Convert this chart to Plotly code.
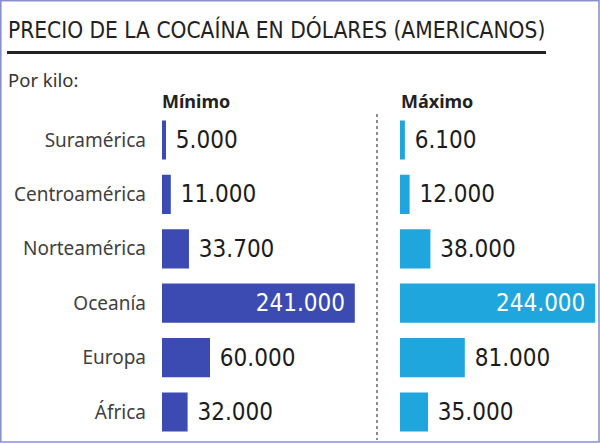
import plotly.graph_objects as go

categories = ["Suramérica", "Centroamérica", "Norteamérica", "Oceanía", "Europa", "África"]
minimo = [5000, 11000, 33700, 241000, 60000, 32000]
maximo = [6100, 12000, 38000, 244000, 81000, 35000]

title_text = "PRECIO DE LA COCAÍNA EN DÓLARES (AMERICANOS)"
subtitle_text = "Por kilo:"
header_min = "Mínimo"
header_max = "Máximo"

W, H = 600, 443
def px(x):
    return x / W
def py(y):
    return 1 - y / H

COL_MIN = "#3b4bb2"
COL_MAX = "#1fa6dc"
NUM_FONT = "DejaVu Sans Condensed"
NUM_SIZE = 24
INSIDE_LIMIT = 200000

def positions(vals):
    return ["inside" if v > INSIDE_LIMIT else "outside" for v in vals]

def templates(vals):
    return ["%{x:,} " if v > INSIDE_LIMIT else " %{x:,}" for v in vals]

fig = go.Figure()
fig.add_trace(go.Bar(
    y=categories, x=minimo, orientation="h", marker=dict(color=COL_MIN, line=dict(width=0)),
    texttemplate=templates(minimo), textposition=positions(minimo),
    insidetextanchor="end", constraintext="none", cliponaxis=False,
    insidetextfont=dict(family=NUM_FONT, size=NUM_SIZE, color="white"),
    outsidetextfont=dict(family=NUM_FONT, size=NUM_SIZE, color="#1c1c1c"),
    xaxis="x", yaxis="y", hoverinfo="skip", showlegend=False,
))
fig.add_trace(go.Bar(
    y=categories, x=maximo, orientation="h", marker=dict(color=COL_MAX, line=dict(width=0)),
    texttemplate=templates(maximo), textposition=positions(maximo),
    insidetextanchor="end", constraintext="none", cliponaxis=False,
    insidetextfont=dict(family=NUM_FONT, size=NUM_SIZE, color="white"),
    outsidetextfont=dict(family=NUM_FONT, size=NUM_SIZE, color="#1c1c1c"),
    xaxis="x2", yaxis="y2", hoverinfo="skip", showlegend=False,
))

ydom = [py(439.2), py(112.8)]
axis_common = dict(range=[0, 250000], showgrid=False, zeroline=False, showticklabels=False,
                   showline=False, ticks="", fixedrange=True, automargin=False)
fig.update_layout(
    width=W, height=H,
    margin=dict(l=0, r=0, t=0, b=0, autoexpand=False),
    paper_bgcolor="white", plot_bgcolor="rgba(0,0,0,0)",
    separators=",.",
    bargap=0.28,
    xaxis=dict(domain=[px(162), px(362)], anchor="y", **axis_common),
    xaxis2=dict(domain=[px(400), px(600)], anchor="y2", **axis_common),
    yaxis=dict(domain=ydom, autorange="reversed", showgrid=False, zeroline=False, showline=False,
               ticks="", ticklabelstandoff=15, anchor="x", automargin=False, fixedrange=True,
               tickfont=dict(family="Noto Sans", size=19, color="#404040")),
    yaxis2=dict(domain=ydom, autorange="reversed", showgrid=False, zeroline=False, showline=False,
                ticks="", showticklabels=False, anchor="x2", automargin=False, fixedrange=True),
    font=dict(family="Noto Sans"),
)

fig.add_annotation(text=title_text, x=px(6), y=py(30), xref="paper", yref="paper",
                   xanchor="left", yanchor="middle", showarrow=False,
                   font=dict(family=NUM_FONT, size=22.5, color="#222222"))
fig.add_annotation(text=subtitle_text, x=px(6), y=py(79), xref="paper", yref="paper",
                   xanchor="left", yanchor="middle", showarrow=False,
                   font=dict(family="Noto Sans", size=18.5, color="#333333"))
fig.add_annotation(text="<b>" + header_min + "</b>", x=px(160), y=py(101), xref="paper", yref="paper",
                   xanchor="left", yanchor="middle", showarrow=False,
                   font=dict(family="Noto Sans", size=18, color="#222222"))
fig.add_annotation(text="<b>" + header_max + "</b>", x=px(399), y=py(101), xref="paper", yref="paper",
                   xanchor="left", yanchor="middle", showarrow=False,
                   font=dict(family="Noto Sans", size=18, color="#222222"))

# underline below title
fig.add_shape(type="line", xref="paper", yref="paper", x0=px(7), x1=px(546), y0=py(52.5), y1=py(52.5),
              line=dict(color="#222222", width=3))
# dotted divider
fig.add_shape(type="line", xref="paper", yref="paper", x0=px(377), x1=px(377), y0=py(114), y1=py(440),
              line=dict(color="#666666", width=1.5, dash="dot"))
# frame
fig.add_shape(type="rect", xref="paper", yref="paper", x0=px(0.8), x1=px(599), y0=py(442), y1=py(0.8),
              line=dict(color="#8a8fd0", width=1.6))

fig.write_html("out.html", config={"displayModeBar": False},
               post_script="document.body.style.margin='0';document.body.style.overflow='hidden';")
